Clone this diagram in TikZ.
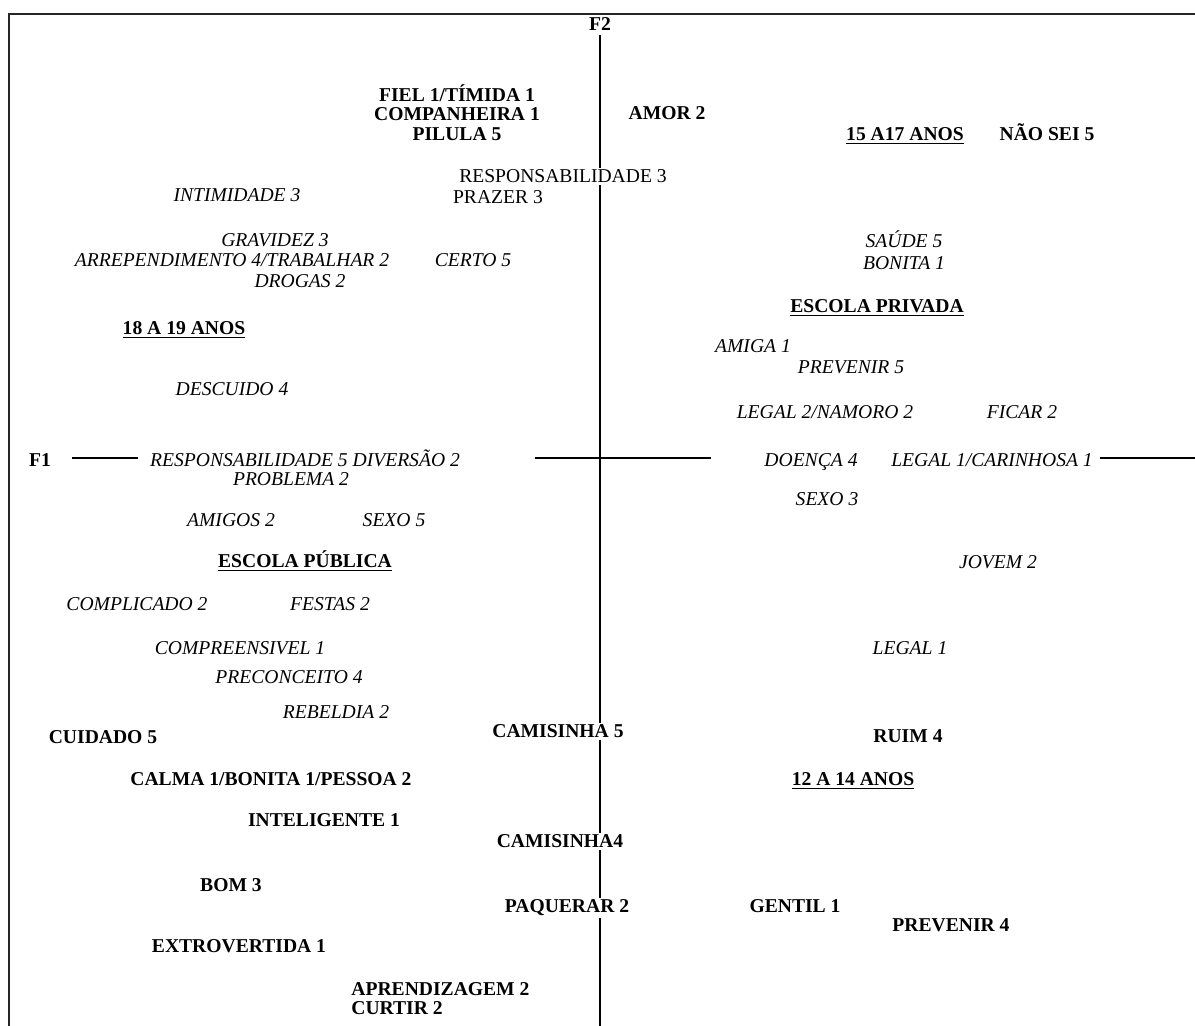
\documentclass[tikz,border=0pt]{standalone}
\usepackage{fontspec}
\setmainfont{Liberation Serif}
\usepackage{tikz}
\usetikzlibrary{backgrounds}

\begin{document}
\begin{tikzpicture}[x=0.5pt, y=-0.5pt,
    every node/.style={fill=white, inner sep=1pt, anchor=base},
    nb/.style={font=\fontsize{9.8}{10}\selectfont\bfseries},
    ni/.style={font=\fontsize{9.8}{10}\selectfont\itshape},
    nr/.style={font=\fontsize{9.8}{10}\selectfont}]
      \useasboundingbox (0,0) rectangle (1195,1026);
      % Axes labels
      \node[nb, fill=none, inner sep=0pt] (f2) at (600, 30.5) {F2};
      \node[nb] (f1) at (40, 466.5) {F1};
      % Upper left
      \node[nb] (fiel) at (457, 101.5) {FIEL 1/TÍMIDA 1};
      \node[nb] (compa) at (457, 120.5) {COMPANHEIRA 1};
      \node[nb] (pilula) at (457, 140.5) {PILULA 5};
      \node[nr] (resp3) at (563, 182.5) {RESPONSABILIDADE 3};
      \node[nr] (prazer) at (498, 203.5) {PRAZER 3};
      \node[ni] (intim) at (237, 201.5) {INTIMIDADE 3};
      \node[ni] (gravidez) at (275, 246.5) {GRAVIDEZ 3};
      \node[ni] (arrep) at (232, 266.5) {ARREPENDIMENTO 4/TRABALHAR 2};
      \node[ni] (drogas) at (300, 287.5) {DROGAS 2};
      \node[ni] (certo) at (473, 266.5) {CERTO 5};
      \node[nb] (anos18) at (184, 334.5) {\underline{18 A 19 ANOS}};
      \node[ni] (descuido) at (232, 395.5) {DESCUIDO 4};
      % Upper right
      \node[nb] (amor) at (667, 119.5) {AMOR 2};
      \node[nb] (anos15) at (905, 140.5) {\underline{15 A17 ANOS}};
      \node[nb] (naosei) at (1047, 140.5) {NÃO SEI 5};
      \node[ni] (saude) at (904, 247.5) {SAÚDE 5};
      \node[ni] (bonita) at (904, 269.5) {BONITA 1};
      \node[nb] (privada) at (877, 312.5) {\underline{ESCOLA PRIVADA}};
      \node[ni] (amiga) at (753, 352.5) {AMIGA 1};
      \node[ni] (prevenir5) at (851, 373.5) {PREVENIR 5};
      \node[ni] (legal2) at (825, 418.5) {LEGAL 2/NAMORO 2};
      \node[ni] (ficar) at (1022, 418.5) {FICAR 2};
      % Around F1
      \node[ni] (resp5) at (305, 466.5) {RESPONSABILIDADE 5 DIVERSÃO 2};
      \node[ni] (problema) at (291, 485.5) {PROBLEMA 2};
      \node[ni] (doenca) at (811, 466.5) {DOENÇA 4};
      \node[ni] (carinhosa) at (992, 466.5) {LEGAL 1/CARINHOSA 1};
      % Lower left
      \node[ni] (amigos) at (231, 526.5) {AMIGOS 2};
      \node[ni] (sexo5) at (394, 526.5) {SEXO 5};
      \node[nb] (publica) at (305, 567.5) {\underline{ESCOLA PÚBLICA}};
      \node[ni] (complic) at (137, 610.5) {COMPLICADO 2};
      \node[ni] (festas) at (330, 610.5) {FESTAS 2};
      \node[ni] (compre) at (240, 654.5) {COMPREENSIVEL 1};
      \node[ni] (precon) at (289, 683.5) {PRECONCEITO 4};
      \node[ni] (rebeldia) at (336, 718.5) {REBELDIA 2};
      \node[nb] (cuidado) at (103, 743.5) {CUIDADO 5};
      \node[nb] (calma) at (271, 785.5) {CALMA 1/BONITA 1/PESSOA 2};
      \node[nb] (intel) at (324, 826.5) {INTELIGENTE 1};
      \node[nb] (bom) at (231, 891.5) {BOM 3};
      \node[nb] (extro) at (239, 952.5) {EXTROVERTIDA 1};
      \node[nb, anchor=base west] (aprend) at (349, 995.5) {APRENDIZAGEM 2};
      \node[nb, anchor=base west] (curtir) at (349, 1014.5) {CURTIR 2};
      % On the F2 axis
      \node[nb] (camis5) at (558, 737.5) {CAMISINHA 5};
      \node[nb] (camis4) at (560, 847.5) {CAMISINHA4};
      \node[nb] (paquerar) at (567, 912.5) {PAQUERAR 2};
      % Lower right
      \node[ni] (sexo3) at (827, 505.5) {SEXO 3};
      \node[ni] (jovem) at (998, 568.5) {JOVEM 2};
      \node[ni] (legal1) at (910, 654.5) {LEGAL 1};
      \node[nb] (ruim) at (908, 742.5) {RUIM 4};
      \node[nb] (anos12) at (853, 785.5) {\underline{12 A 14 ANOS}};
      \node[nb] (gentil) at (795, 912.5) {GENTIL 1};
      \node[nb] (prevenir4) at (951, 931.5) {PREVENIR 4};
      % Axes and frame
      \coordinate (vbot) at (600, 1040);
      \coordinate (h1) at (72, 458);
      \coordinate (h2) at (138, 458);
      \coordinate (h3) at (535, 458);
      \coordinate (h4) at (711, 458);
      \coordinate (h5) at (1100, 458);
      \coordinate (h6) at (1210, 458);
      \begin{scope}[on background layer]
        \draw[line width=1pt, draw=black!85] (9, 1040) |- (1210, 14);
        \draw[line width=0.6pt, shorten <=2pt] (f2) -- (vbot);
        \draw[line width=0.6pt] (h1) -- (h2) (h3) -- (h4) (h5) -- (h6);
      \end{scope}
\end{tikzpicture}
\end{document}
